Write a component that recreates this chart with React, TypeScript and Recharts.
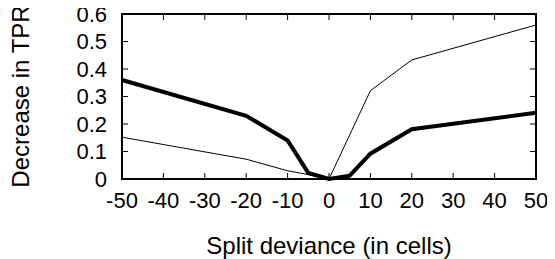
import { LineChart, Line, XAxis, YAxis } from 'recharts';

// x positions (cells) and decrease in TPR
const thickX = [-50, -20, -10, -5, 0, 5, 10, 20, 50];
const thickY = [0.36, 0.23, 0.14, 0.022, 0, 0.012, 0.092, 0.181, 0.241];
const thinX = [-50, -20, -10, -5, 0, 10, 20, 50];
const thinY = [0.152, 0.072, 0.03, 0.016, 0, 0.321, 0.433, 0.56];

const xTicks = [-50, -40, -30, -20, -10, 0, 10, 20, 30, 40, 50];
const yTicks = [0, 0.1, 0.2, 0.3, 0.4, 0.5, 0.6];

const thickData = thickX.map((x, i) => ({ x, y: thickY[i] }));
const thinData = thinX.map((x, i) => ({ x, y: thinY[i] }));

const FONT = '"Liberation Sans", Arial, Helvetica, sans-serif';
const W = 555;
const H = 259;
const MARGIN = { top: 14, right: 19, left: 0, bottom: 0 };
const Y_AXIS_W = 122;
const X_AXIS_H = 80;
const PLOT_W = W - MARGIN.right - Y_AXIS_W;
const PLOT_H = H - MARGIN.top - X_AXIS_H;
const TICK_LEN = 6;
const X_MIN = -50;
const X_MAX = 50;
const Y_MAX = 0.6;

function XTick({ x, y, payload }: any) {
  return (
    <text x={x} y={y + 21} textAnchor="middle" dominantBaseline="central" fontSize={22} fontFamily={FONT} fill="#000">
      {payload.value}
    </text>
  );
}

function YTick({ x, y, payload }: any) {
  return (
    <text x={x - 15} y={y} textAnchor="end" dominantBaseline="central" fontSize={22} fontFamily={FONT} fill="#000">
      {payload.value}
    </text>
  );
}

// gnuplot-style box with inward ticks on all four sides
function Frame() {
  const left = Y_AXIS_W;
  const top = MARGIN.top;
  const right = left + PLOT_W;
  const bottom = top + PLOT_H;
  const px = (v: number) => left + ((v - X_MIN) / (X_MAX - X_MIN)) * PLOT_W;
  const py = (v: number) => bottom - (v / Y_MAX) * PLOT_H;
  let d = '';
  xTicks.forEach((v) => {
    const x = px(v);
    d += `M${x},${bottom}V${bottom - TICK_LEN}M${x},${top}V${top + TICK_LEN}`;
  });
  yTicks.forEach((v) => {
    const y = py(v);
    d += `M${left},${y}H${left + TICK_LEN}M${right},${y}H${right - TICK_LEN}`;
  });
  return (
    <g>
      <path d={d} stroke="#000" strokeWidth={1} fill="none" />
      <rect x={left} y={top} width={PLOT_W} height={PLOT_H} fill="none" stroke="#000" strokeWidth={2} />
    </g>
  );
}

export default function App() {
  const plotMidX = Y_AXIS_W + PLOT_W / 2;
  const plotMidY = MARGIN.top + PLOT_H / 2;
  return (
    <div style={{ position: 'relative', left: -8, top: -8, width: W, height: H, background: '#fff' }}>
      <LineChart width={W} height={H} data={thinData} margin={MARGIN}>
        <XAxis
          type="number"
          dataKey="x"
          domain={[X_MIN, X_MAX]}
          ticks={xTicks}
          height={X_AXIS_H}
          tickSize={0}
          tickMargin={0}
          tickLine={false}
          axisLine={{ stroke: '#000', strokeWidth: 2 }}
          tick={<XTick />}
        />
        <YAxis
          type="number"
          domain={[0, Y_MAX]}
          ticks={yTicks}
          width={Y_AXIS_W}
          tickSize={0}
          tickMargin={0}
          tickLine={false}
          axisLine={{ stroke: '#000', strokeWidth: 2 }}
          tick={<YTick />}
        />
        <Line data={thickData} dataKey="y" stroke="#000" strokeWidth={4} dot={false} isAnimationActive={false} />
        <Line dataKey="y" stroke="#000" strokeWidth={1} dot={false} isAnimationActive={false} />
      </LineChart>
      <svg width={W} height={H} style={{ position: 'absolute', left: 0, top: 0, pointerEvents: 'none' }}>
        <Frame />
        <text
          x={20}
          y={plotMidY}
          transform={`rotate(-90 20 ${plotMidY})`}
          textAnchor="middle"
          dominantBaseline="central"
          fontSize={24}
          fontFamily={FONT}
          fill="#000"
        >
          Decrease in TPR
        </text>
        <text x={plotMidX} y={H - 14} textAnchor="middle" dominantBaseline="central" fontSize={24} fontFamily={FONT} fill="#000">
          Split deviance (in cells)
        </text>
      </svg>
    </div>
  );
}
